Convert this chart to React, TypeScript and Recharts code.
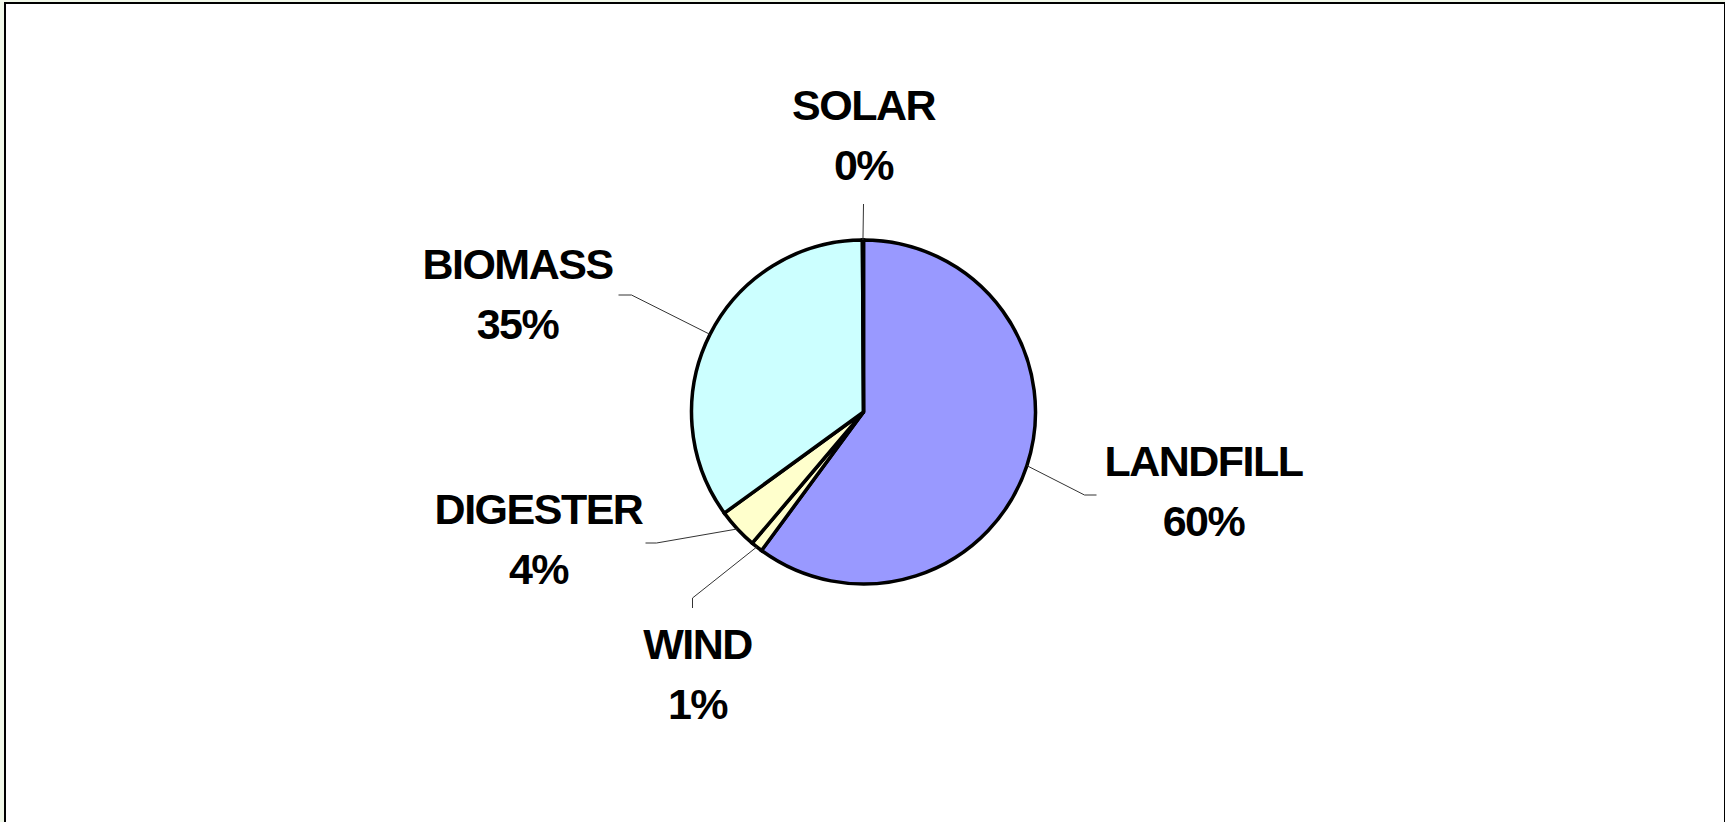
import { PieChart, Pie, Cell } from 'recharts';

const categories = ['LANDFILL', 'WIND', 'DIGESTER', 'BIOMASS', 'SOLAR'];
const shares = [60.1, 1.1, 3.8, 34.9, 0.1];
const COLORS = ['#9999FF', '#FFFFCC', '#FFFFCC', '#CCFFFF', '#FFFFCC'];

const data = categories.map((name, i) => ({ name, value: shares[i] }));

// where each label sits relative to the pie centre, where its leader line ends
// (relative to the label centre), and the short straight tail (ex, ey) before that end
const LABEL_LAYOUT: Record<string, { dx: number; dy: number; ax: number; ay: number; ex: number; ey: number }> = {
  LANDFILL: { dx: 340, dy: 79, ax: -107, ay: 4, ex: 12, ey: 0 },
  WIND: { dx: -166, dy: 262, ax: -5, ay: -66, ex: 0, ey: 10 },
  DIGESTER: { dx: -325, dy: 127, ax: 107, ay: 4, ex: -11, ey: 0 },
  BIOMASS: { dx: -346, dy: -118, ax: 101, ay: 1, ex: -13, ey: 0 },
  SOLAR: { dx: 0, dy: -277, ax: 0, ay: 69, ex: 0, ey: 0 },
};

const RADIAN = Math.PI / 180;

const SliceLabel = ({ cx, cy, midAngle, outerRadius, percent, payload }: any) => {
  const lay = LABEL_LAYOUT[payload.name];
  const sx = cx + outerRadius * Math.cos(-midAngle * RADIAN);
  const sy = cy + outerRadius * Math.sin(-midAngle * RADIAN);
  const lx = cx + lay.dx;
  const ly = cy + lay.dy;
  const endX = lx + lay.ax;
  const endY = ly + lay.ay;
  const elbowX = endX - lay.ex;
  const elbowY = endY - lay.ey;
  const textStyle = {
    fontFamily: '"Liberation Sans", Arial, sans-serif',
    fontWeight: 700,
    fontSize: 43,
    letterSpacing: -1.5,
  };
  return (
    <g>
      <polyline
        points={`${sx},${sy} ${elbowX},${elbowY} ${endX},${endY}`}
        fill="none"
        stroke="#333333"
        strokeWidth={1}
      />
      <text x={lx} y={ly - 30} textAnchor="middle" dominantBaseline="central" fill="#000000" style={textStyle}>
        {payload.name}
      </text>
      <text x={lx} y={ly + 30} textAnchor="middle" dominantBaseline="central" fill="#000000" style={textStyle}>
        {`${Math.round(percent * 100)}%`}
      </text>
    </g>
  );
};

const App = () => {
  return (
    <div style={{ position: 'absolute', left: 0, top: 0, width: 1725, height: 822, background: '#F1F8E9', overflow: 'hidden' }}>
      <div
        style={{
          position: 'absolute',
          left: 4,
          top: 2,
          width: 1718,
          height: 840,
          background: '#FFFFFF',
          border: '2px solid #000000',
        }}
      />
      <div style={{ position: 'absolute', left: 0, top: 0 }}>
        <PieChart width={1725} height={822} margin={{ top: 0, right: 0, bottom: 0, left: 0 }}>
          <Pie
            data={data}
            dataKey="value"
            nameKey="name"
            cx={863.5}
            cy={412}
            outerRadius={172}
            startAngle={90}
            endAngle={-270}
            stroke="#000000"
            strokeWidth={3.5}
            labelLine={false}
            label={SliceLabel}
            isAnimationActive={false}
          >
            {data.map((entry, index) => (
              <Cell key={`cell-${index}`} fill={COLORS[index % COLORS.length]} />
            ))}
          </Pie>
        </PieChart>
      </div>
    </div>
  );
};

export default App;
